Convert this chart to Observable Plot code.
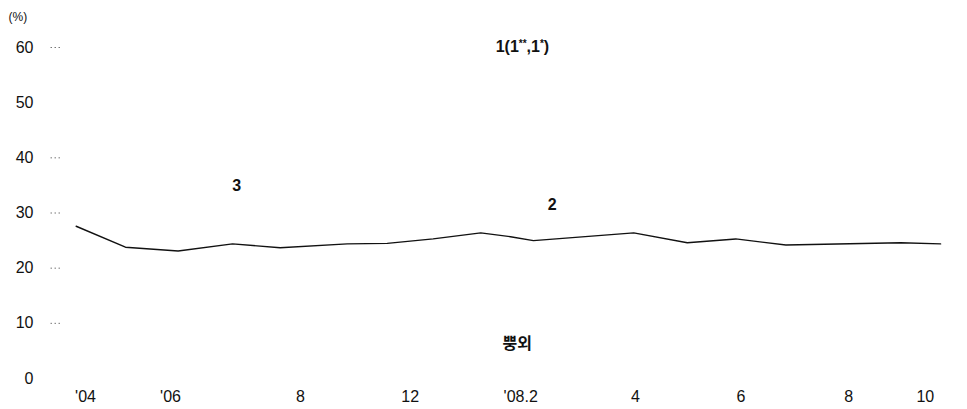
<!DOCTYPE html>
<html>
<head>
<meta charset="utf-8">
<script src="https://cdn.jsdelivr.net/npm/d3@7"></script>
<script src="https://cdn.jsdelivr.net/npm/@observablehq/plot@0.6"></script>
<style>
  html, body { margin: 0; padding: 0; background: #fff; }
  #chart svg { display: block; }
</style>
</head>
<body>
<div id="chart"></div>
<script>
// x positions are in axis "slot" units (one unit = spacing from '04 to '06)
const lineX = [-0.11, 0.47, 1.09, 1.73, 2.29, 3.08, 3.55, 4.09, 4.65, 5.0, 5.27, 6.45, 7.08, 7.65, 8.24, 9.59, 10.06];
const lineY = [27.6, 23.8, 23.1, 24.4, 23.7, 24.4, 24.5, 25.3, 26.4, 25.7, 25.0, 26.4, 24.6, 25.3, 24.2, 24.6, 24.4];

const xTickPos = [0, 1, 2.53, 3.82, 5.12, 6.47, 7.71, 8.98, 9.88];
const xTickLabels = ["'04", "'06", "8", "12", "'08.2", "4", "6", "8", "10"];

const yTickLabels = [0, 10, 20, 30, 40, 50, 60];
const yTickMarks = [10, 20, 30, 40, 60];

const annoText = ["1(1**,1*)", "3", "2", "뿡외"];
const annoX = [5.14, 1.78, 5.49, 5.08];
const annoY = [60.2, 35.0, 31.4, 6.3];

const data = lineX.map((x, i) => ({x, y: lineY[i]}));
const annos = annoText.map((t, i) => ({t, x: annoX[i], y: annoY[i]}));

const plot = Plot.plot({
  width: 967,
  height: 409,
  marginLeft: 60,
  marginRight: 15,
  marginTop: 47,
  marginBottom: 31,
  style: {fontFamily: "'Liberation Sans', Arial, sans-serif", background: "#fff", color: "#111"},
  x: {domain: [-25/85, 10.2], axis: null, label: null},
  y: {domain: [0, 60], axis: null, label: null},
  marks: [
    Plot.axisY({ticks: yTickLabels, tickSize: 0, tickPadding: 27, fontSize: 16, label: null, tickFormat: d => String(d)}),
    Plot.axisY({ticks: yTickMarks, tickSize: 10, text: null, label: null, stroke: "#777", strokeDasharray: "1.5,2.5"}),
    Plot.axisX({ticks: xTickPos, tickSize: 0, tickPadding: 12, fontSize: 16, label: null, tickFormat: d => xTickLabels[xTickPos.indexOf(d)]}),
    Plot.text(["(%)"], {frameAnchor: "top-left", dx: -52, dy: -35, text: d => d, fontSize: 12, textAnchor: "start"}),
    Plot.lineY(data, {x: "x", y: "y", stroke: "#111", strokeWidth: 1.4}),
    Plot.text(annos, {x: "x", y: "y", text: "t", fontSize: 16, fontWeight: "bold",
      fontFamily: "'Liberation Sans', 'Noto Sans CJK KR', sans-serif"})
  ]
});

// superscript asterisks in "1(1**,1*)"
d3.select(plot).selectAll("text").each(function() {
  const el = d3.select(this);
  if (el.text() === annoText[0]) {
    el.text(null);
    const parts = [["1(1", false], ["**", true], [",1", false], ["*", true], [")", false]];
    parts.forEach(([s, sup]) => {
      const ts = el.append("tspan").text(s);
      if (sup) ts.attr("font-size", 10).attr("baseline-shift", "super");
    });
  }
});

document.getElementById("chart").appendChild(plot);
</script>
</body>
</html>
